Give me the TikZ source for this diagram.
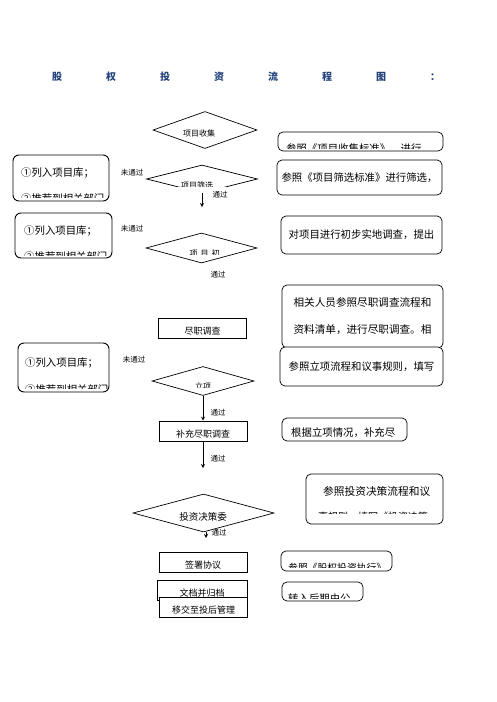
\documentclass[tikz,border=0pt]{standalone}
\usepackage{fontspec}
\newfontfamily\cjk{Noto Sans CJK SC}
\usepackage{xcolor}
\usepackage{tikz}
\usetikzlibrary{shapes.geometric, arrows}
\definecolor{titleblue}{HTML}{24427A}

\begin{document}
\begin{tikzpicture}[
    x=1pt, y=-1pt,
    decide/.style={draw, diamond, aspect=3, inner sep=0pt, line width=0.7pt},
    dtext/.style={inner sep=0pt, font=\cjk\fontsize{8}{8}\selectfont},
    stage/.style={draw, rectangle, fill=white, line width=0.8pt, minimum width=88pt, inner xsep=2pt, inner ysep=2pt, text height=14pt, text depth=2pt, font=\cjk\fontsize{9}{9}\selectfont},
    note/.style={draw, fill=white, rounded corners=5pt, line width=0.7pt, inner sep=0pt, font=\cjk\fontsize{10.4}{10.4}\selectfont},
    line/.style={inner sep=0pt, anchor=west, font=\cjk\fontsize{10.4}{10.4}\selectfont},
    tag/.style={inner sep=0pt, font=\cjk\fontsize{7.5}{7.5}\selectfont},
    arrow/.style={line width=0.8pt,->,>=stealth}
]
\useasboundingbox (0,0) rectangle (496,702);

% title
\node (title) [anchor=west, inner sep=0pt, text=titleblue, font=\cjk\bfseries\fontsize{10}{10}\selectfont] at (52,77)
    {股\hspace{44pt}权\hspace{44pt}投\hspace{44pt}资\hspace{44pt}流\hspace{44pt}程\hspace{44pt}图\hspace{44pt}：};

% centre column
\node (collect) [decide, minimum width=104pt, minimum height=37pt] at (205,130) {};
\node (collectlbl) [dtext] at (199,133) {项目收集};

\begin{scope}
\clip (140,160) rectangle (265,186.5);
\node (screen) [decide, minimum width=111pt, minimum height=28pt] at (202,179) {};
\node (screenlbl) [dtext] at (197,185.5) {项目筛选};
\end{scope}

\node (prelim) [decide, minimum width=111pt, minimum height=30pt] at (201.5,248) {};
\begin{scope}
\clip (150,240) rectangle (255,254.5);
\node (prelimlbl) [dtext] at (204.5,253) {项\hspace{3pt}目\hspace{3pt}初};
\end{scope}

\node (dd) [stage] at (202.5,328) {尽职调查};

\node (approve) [decide, minimum width=102pt, minimum height=29pt] at (203,381) {};
\begin{scope}
\clip (160,375) rectangle (250,387);
\node (approvelbl) [dtext] at (203,386) {立项};
\end{scope}

\node (supp) [stage] at (203,431) {补充尽职调查};

\node (decision) [decide, minimum width=141pt, minimum height=38pt] at (203.5,513) {};
\node (decisionlbl) [dtext, font=\cjk\fontsize{9.5}{9.5}\selectfont] at (203,517) {投资决策委};

\node (sign) [stage] at (203,562) {签署协议};
\node (archive) [stage, minimum width=90pt] at (202,590.5) {文档并归档};
\node (handover) [stage] at (203.5,607.5) {移交至投后管理};

% connectors
\coordinate (screenend) at (202,207);
\coordinate (suppend) at (203,468);
\coordinate (decend) at (206,538);
\draw[arrow] (screen.south) -- (screenend);
\draw[arrow] (approve.south) -- (supp.north);
\draw[arrow] (supp.south) -- (suppend);
\draw[arrow] (decision.south -| decend) -- (decend);

\node (pass1) [tag] at (220,195) {通过};
\node (pass2) [tag] at (218,275) {通过};
\node (pass3) [tag] at (218,413) {通过};
\node (pass4) [tag] at (218,459) {通过};
\node (pass5) [tag] at (219,533) {通过};
\node (fail1) [tag] at (132,173) {未通过};
\node (fail2) [tag] at (132,229) {未通过};
\node (fail3) [tag] at (134,360) {未通过};

% left notes
\node (lib1) [note, line width=0.9pt, rounded corners=6pt, minimum width=96pt, minimum height=46pt] at (61,178) {};
\begin{scope}
\clip (14,156) rectangle (108,197.5);
\node (lib1a) [line] at (21,173) {①列入项目库；};
\node (lib1b) [line] at (21,199) {②推荐到相关部门};
\end{scope}

\node (lib2) [note, line width=0.9pt, rounded corners=6pt, minimum width=97pt, minimum height=45pt] at (63.5,235.5) {};
\begin{scope}
\clip (16,214) rectangle (111,255);
\node (lib2a) [line] at (24,231) {①列入项目库；};
\node (lib2b) [line] at (24,257) {②推荐到相关部门};
\end{scope}

\node (lib3) [note, line width=0.9pt, rounded corners=6pt, minimum width=91pt, minimum height=49pt] at (63.5,367.5) {};
\begin{scope}
\clip (19,344) rectangle (108,388.5);
\node (lib3a) [line] at (25,363) {①列入项目库；};
\node (lib3b) [line] at (25,390) {②推荐到相关部门};
\end{scope}

% right notes
\node (collectref) [note, minimum width=165pt, minimum height=19pt] at (360.5,141.5) {};
\begin{scope}
\clip (279,133) rectangle (442,148);
\node (collectreftext) [line] at (286,149) {参照《项目收集标准》，进行};
\end{scope}

\node (screenref) [note, minimum width=165pt, minimum height=35pt] at (359.5,177.5) {参照《项目筛选标准》进行筛选，};
\node (prelimref) [note, minimum width=161pt, minimum height=38pt] at (361.5,235) {对项目进行初步实地调查，提出};
\node (ddref) [note, minimum width=161pt, minimum height=63pt, align=left, font=\cjk\fontsize{10.6}{27}\selectfont] at (362.5,316.5)
    {相关人员参照尽职调查流程和\\资料清单，进行尽职调查。相};
\node (approveref) [note, minimum width=163pt, minimum height=39pt] at (361.5,366.5) {参照立项流程和议事规则，填写};

\node (suppref) [note, minimum width=125pt, minimum height=23pt] at (344.5,429.5) {};
\begin{scope}
\clip (283,419) rectangle (406,436);
\node (supprefText) [line] at (291,433) {根据立项情况，补充尽};
\end{scope}

\node (decisionref) [note, minimum width=137pt, minimum height=50pt] at (374.5,499) {};
\node (decisionrefa) [line, font=\cjk\fontsize{10.7}{10.7}\selectfont] at (323,491) {参照投资决策流程和议};
\begin{scope}
\clip (307,475) rectangle (442,513);
\node (decisionrefb) [line, font=\cjk\fontsize{10}{10}\selectfont] at (318,516.5) {事规则，填写《投资决策};
\end{scope}

\node (signref) [note, minimum width=111pt, minimum height=20pt] at (336.5,561) {};
\begin{scope}
\clip (282,552) rectangle (391,567);
\node (signreftext) [line, font=\cjk\fontsize{9.8}{9.8}\selectfont] at (288,567.5) {参照《股权投资执行》};
\end{scope}

\node (archiveref) [note, minimum width=81pt, minimum height=19pt] at (322.5,591.5) {};
\begin{scope}
\clip (283,583) rectangle (362,598);
\node (archivereftext) [line, font=\cjk\fontsize{10.4}{10.4}\selectfont] at (288,598.5) {转入后期由公};
\end{scope}

\end{tikzpicture}
\end{document}
